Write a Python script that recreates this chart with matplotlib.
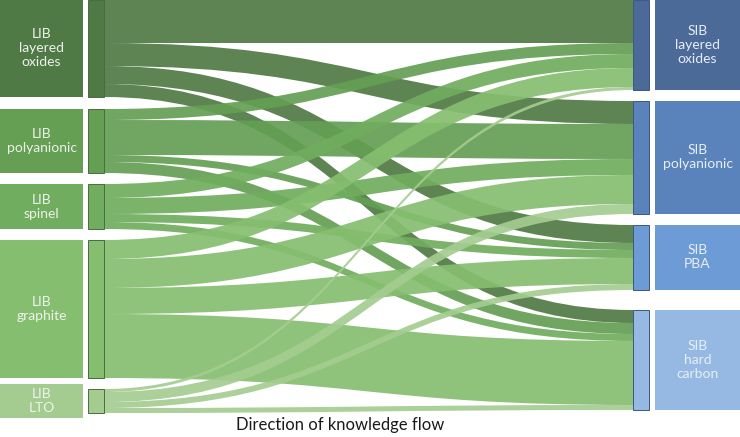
import matplotlib.pyplot as plt
from matplotlib.path import Path
from matplotlib.patches import PathPatch, Rectangle

# source / target categories
left_labels = ['LIB\nlayered\noxides', 'LIB\npolyanionic', 'LIB\nspinel', 'LIB\ngraphite', 'LIB\nLTO']
right_labels = ['SIB\nlayered\noxides', 'SIB\npolyanionic', 'SIB\nPBA', 'SIB\nhard\ncarbon']

# knowledge flow from each LIB class to SIB classes (same order as right_labels)
lib_layered = [43, 23, 18, 13]
lib_polyanionic = [11, 35, 7, 11]
lib_spinel = [14, 16, 8, 7]
lib_graphite = [19, 29, 26, 64]
lib_lto = [3, 10, 6, 5]
flows = [lib_layered, lib_polyanionic, lib_spinel, lib_graphite, lib_lto]

left_colors = ['#507a45', '#649f53', '#71ad5e', '#86be70', '#a4cc90']
right_colors = ['#4b6a98', '#5a83bb', '#6d9bd5', '#95b9e2']

plt.rcParams['font.family'] = ['Lato', 'DejaVu Sans']

fig = plt.figure(figsize=(7.4, 4.37), dpi=100)
ax = fig.add_axes([0, 0, 1, 1])
ax.set_xlim(0, 740)
ax.set_ylim(437, 0)
ax.axis('off')

# layout (pixel-like units)
left_gaps = [12, 11, 11, 11]
right_gaps = [11, 11, 20]
xl0, xl1 = 88, 104      # left bars
xr0, xr1 = 633, 649     # right bars

left_tot = [sum(r) for r in flows]
right_tot = [sum(r[j] for r in flows) for j in range(len(right_labels))]

def stack(tots, gaps):
    ys, y = [], 0
    for i, t in enumerate(tots):
        ys.append(y)
        y += t + (gaps[i] if i < len(gaps) else 0)
    return ys

left_y = stack(left_tot, left_gaps)
right_y = stack(right_tot, right_gaps)

# ribbons
right_off = list(right_y)
for i, row in enumerate(flows):
    yl = left_y[i]
    for j, v in enumerate(row):
        yr = right_off[j]
        xm = (xl1 + xr0) / 2
        verts = [(xl1, yl), (xm, yl), (xm, yr), (xr0, yr),
                 (xr0, yr + v), (xm, yr + v), (xm, yl + v), (xl1, yl + v),
                 (xl1, yl)]
        codes = [Path.MOVETO, Path.CURVE4, Path.CURVE4, Path.CURVE4,
                 Path.LINETO, Path.CURVE4, Path.CURVE4, Path.CURVE4,
                 Path.CLOSEPOLY]
        ax.add_patch(PathPatch(Path(verts, codes), facecolor=left_colors[i],
                               edgecolor='none', alpha=0.92))
        yl += v
        right_off[j] += v

# left nodes and label boxes
for i, lab in enumerate(left_labels):
    y0, h = left_y[i], left_tot[i]
    ax.add_patch(Rectangle((xl0, y0), xl1 - xl0, h, facecolor=left_colors[i],
                           edgecolor='#4a6b40', lw=0.7))
    bh = max(h, 34)
    by = y0 + h / 2 - bh / 2
    ax.add_patch(Rectangle((0, by), 83, bh, facecolor=left_colors[i], edgecolor='none'))
    ax.text(41.5, y0 + h / 2, lab, ha='center', va='center', fontsize=10,
            color='#eef2ec', linespacing=1.2)

# right nodes and label boxes
for j, lab in enumerate(right_labels):
    y0, h = right_y[j], right_tot[j]
    ax.add_patch(Rectangle((xr0, y0), xr1 - xr0, h, facecolor=right_colors[j],
                           edgecolor='#3d5680', lw=0.7))
    ax.add_patch(Rectangle((655, y0), 85, h, facecolor=right_colors[j], edgecolor='none'))
    ax.text(697.5, y0 + h / 2, lab, ha='center', va='center', fontsize=10,
            color='#e8eef6', linespacing=1.2)

ax.text(340, 425, 'Direction of knowledge flow', ha='center', va='center',
        fontsize=12, color='#1a1a1a')

fig.savefig('out.png', dpi=100)
